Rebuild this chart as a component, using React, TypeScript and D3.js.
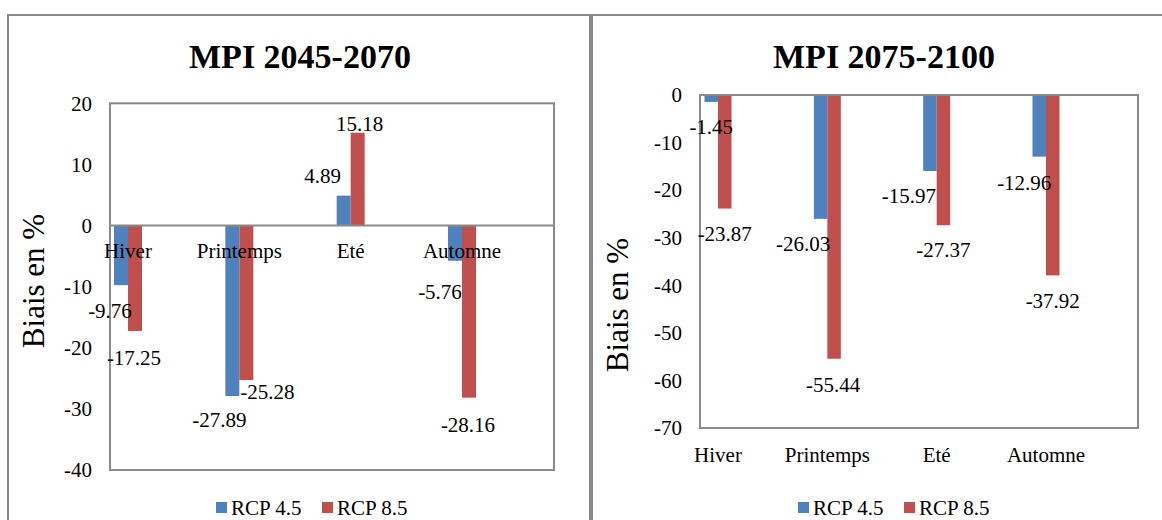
import React from "react";
import * as d3 from "d3";

// ---- data ----
const categories = ["Hiver", "Printemps", "Eté", "Automne"];
const seriesNames = ["RCP 4.5", "RCP 8.5"];
const rcp45_2045 = [-9.76, -27.89, 4.89, -5.76];
const rcp85_2045 = [-17.25, -25.28, 15.18, -28.16];
const rcp45_2075 = [-1.45, -26.03, -15.97, -12.96];
const rcp85_2075 = [-23.87, -55.44, -27.37, -37.92];
const ticks2045 = [20, 10, 0, -10, -20, -30, -40];
const ticks2075 = [0, -10, -20, -30, -40, -50, -60, -70];
const titles = ["MPI 2045-2070", "MPI 2075-2100"];
const axisTitle = "Biais en %";

// ---- style / layout ----
const FONT = "'Liberation Serif', 'Times New Roman', serif";
const COLORS = ["#4F81BD", "#C0504D"];
const GRAY = "#8a8a8a";

type PanelLayout = {
  frameX: number;
  frameW: number;
  plotX: [number, number];
  plotY: [number, number];
  catRange: [number, number];
  barW: number;
  titleX: number;
  axisTitleX: number;
  axisTitleY: number;
  catLabelY: number;
  legendX: number;
  nudge45: [number, number][];
  nudge85: [number, number][];
};

const layoutLeft: PanelLayout = {
  frameX: 8,
  frameW: 582,
  plotX: [110, 554],
  plotY: [103.3, 470],
  catRange: [128, 462],
  barW: 14,
  titleX: 300,
  axisTitleX: 44,
  axisTitleY: 281,
  catLabelY: 258,
  legendX: 216,
  nudge45: [[-11, 33], [-13, 31], [-21, -12.6], [-15, 38]],
  nudge85: [[-1, 34], [21, 19], [2, -2], [-1, 34]],
};

const layoutRight: PanelLayout = {
  frameX: 592,
  frameW: 620,
  plotX: [700, 1138],
  plotY: [95, 428],
  catRange: [718, 1046],
  barW: 13.5,
  titleX: 884,
  axisTitleX: 628,
  axisTitleY: 305,
  catLabelY: 462,
  legendX: 798,
  nudge45: [[0, 32], [-17.5, 32], [-21, 32], [-15, 33]],
  nudge85: [[0, 32.5], [-1, 33], [0, 32], [0, 33]],
};

const fmt = (v: number) => d3.format(".2f")(v).replace("\u2212", "-");

function Panel({
  title,
  s45,
  s85,
  ticks,
  L,
}: {
  title: string;
  s45: number[];
  s85: number[];
  ticks: number[];
  L: PanelLayout;
}) {
  const y = d3
    .scaleLinear()
    .domain([d3.min(ticks)!, d3.max(ticks)!])
    .range([L.plotY[1], L.plotY[0]]);
  const x = d3.scalePoint<string>().domain(categories).range(L.catRange);
  const series = [s45, s85];
  const nudges = [L.nudge45, L.nudge85];

  return (
    <g>
      {/* frame */}
      <rect
        x={L.frameX}
        y={15}
        width={L.frameW}
        height={540}
        fill="#fff"
        stroke={GRAY}
        strokeWidth={2}
      />
      {/* title */}
      <text
        x={L.titleX}
        y={68}
        textAnchor="middle"
        fontFamily={FONT}
        fontWeight="bold"
        fontSize={34}
      >
        {title}
      </text>
      {/* plot area */}
      <rect
        x={L.plotX[0]}
        y={L.plotY[0]}
        width={L.plotX[1] - L.plotX[0]}
        height={L.plotY[1] - L.plotY[0]}
        fill="#fff"
        stroke={GRAY}
        strokeWidth={2}
      />
      {/* y ticks */}
      {ticks.map((t) => (
        <text
          key={t}
          x={L.plotX[0] - 18}
          y={y(t)}
          dy="0.35em"
          textAnchor="end"
          fontFamily={FONT}
          fontSize={21}
        >
          {String(t)}
        </text>
      ))}
      {/* bars */}
      {series.map((vals, si) =>
        vals.map((v, i) => {
          const cx = x(categories[i])!;
          const bx = si === 0 ? cx - L.barW : cx;
          const y0 = y(0);
          const y1 = y(v);
          return (
            <rect
              key={`b${si}-${i}`}
              x={bx}
              y={Math.min(y0, y1)}
              width={L.barW}
              height={Math.abs(y1 - y0)}
              fill={COLORS[si]}
            />
          );
        })
      )}
      {/* zero line */}
      <line
        x1={L.plotX[0]}
        x2={L.plotX[1]}
        y1={y(0)}
        y2={y(0)}
        stroke={GRAY}
        strokeWidth={2}
      />
      {/* category labels */}
      {categories.map((c) => (
        <text
          key={c}
          x={x(c)!}
          y={L.catLabelY}
          textAnchor="middle"
          fontFamily={FONT}
          fontSize={21}
        >
          {c}
        </text>
      ))}
      {/* data labels */}
      {series.map((vals, si) =>
        vals.map((v, i) => {
          const cx = x(categories[i])!;
          const bc = si === 0 ? cx - L.barW / 2 : cx + L.barW / 2;
          const [dx, dy] = nudges[si][i];
          return (
            <text
              key={`l${si}-${i}`}
              x={bc + dx}
              y={y(v) + dy}
              textAnchor="middle"
              fontFamily={FONT}
              fontSize={21}
            >
              {fmt(v)}
            </text>
          );
        })
      )}
      {/* axis title */}
      <text
        transform={`translate(${L.axisTitleX},${L.axisTitleY}) rotate(-90)`}
        textAnchor="middle"
        fontFamily={FONT}
        fontSize={31}
      >
        {axisTitle}
      </text>
      {/* legend */}
      {seriesNames.map((n, si) => {
        const lx = L.legendX + si * 106;
        return (
          <g key={n}>
            <rect x={lx} y={502} width={11} height={11} fill={COLORS[si]} />
            <text x={lx + 15} y={515} fontFamily={FONT} fontSize={21}>
              {n}
            </text>
          </g>
        );
      })}
    </g>
  );
}

export default function App() {
  return (
    <svg
      width={1162}
      height={520}
      style={{ position: "absolute", left: 0, top: 0, background: "#fff" }}
    >
      <rect x={0} y={0} width={1162} height={520} fill="#fff" />
      <Panel title={titles[0]} s45={rcp45_2045} s85={rcp85_2045} ticks={ticks2045} L={layoutLeft} />
      <Panel title={titles[1]} s45={rcp45_2075} s85={rcp85_2075} ticks={ticks2075} L={layoutRight} />
    </svg>
  );
}
